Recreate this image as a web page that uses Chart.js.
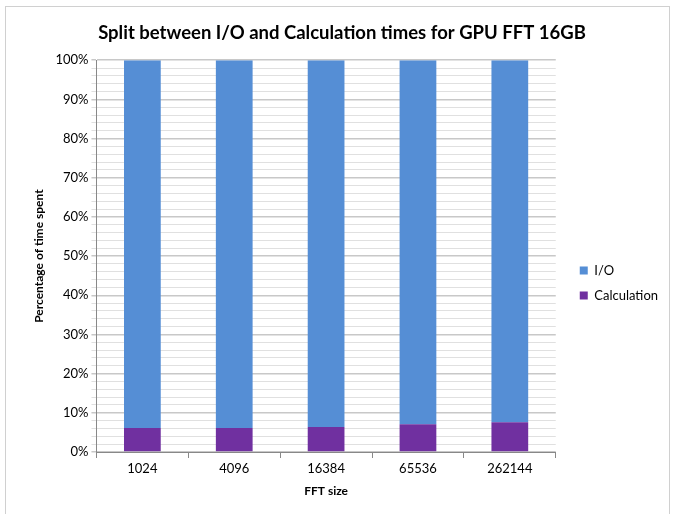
<!DOCTYPE html>
<html>
<head>
<meta charset="utf-8">
<script src="https://cdn.jsdelivr.net/npm/chart.js@4/dist/chart.umd.min.js"></script>
<style>
  body { margin: 0; background: #fff; }
  #frame { position: absolute; left: 5px; top: 6px; width: 663px; height: 520px; border: 1px solid #d0d0d0; }
  #wrap { position: absolute; left: 0; top: 0; width: 676px; height: 514px; }
</style>
</head>
<body>
<div id="frame"></div>
<div id="wrap"><canvas id="chart" width="676" height="514"></canvas></div>
<script>
const fftSizes = ["1024", "4096", "16384", "65536", "262144"];
const calcPct = [6.1, 6.1, 6.4, 7.1, 7.6];
const ioPct = [93.9, 93.9, 93.6, 92.9, 92.4];

const font = "Lato, 'Liberation Sans', sans-serif";

// moves the legend a bit right and down, like Excel places it
const legendShift = {
    id: "legendShift",
    afterLayout(chart) {
        const lg = chart.legend;
        lg.left += 12; lg.right += 12;
        lg.top += 26; lg.bottom += 26;
    }
};

new Chart(document.getElementById("chart"), {
    type: "bar",
    data: {
        labels: fftSizes,
        datasets: [
            { label: "Calculation", data: calcPct, backgroundColor: "#7030a0", barPercentage: 0.4, categoryPercentage: 1 },
            { label: "I/O", data: ioPct, backgroundColor: "#558ed5", barPercentage: 0.4, categoryPercentage: 1 }
        ]
    },
    plugins: [legendShift],
    options: {
        responsive: false,
        animation: false,
        layout: { padding: { left: 28, right: 20, top: 12, bottom: 12 } },
        plugins: {
            title: {
                display: true,
                text: "Split between I/O and Calculation times for GPU FFT 16GB",
                font: { family: font, size: 18.5, weight: "bold" },
                color: "#000",
                padding: { top: 10, bottom: 16 }
            },
            legend: {
                position: "right",
                reverse: true,
                labels: { boxWidth: 8, boxHeight: 8, font: { family: font, size: 13 }, color: "#000", padding: 12 }
            },
            tooltip: { enabled: false }
        },
        scales: {
            x: {
                stacked: true,
                grid: { drawOnChartArea: false, offset: true, tickLength: 6, color: "#888" },
                border: { color: "#888" },
                ticks: { font: { family: font, size: 13 }, color: "#000" },
                title: { display: true, text: "FFT size", font: { family: font, size: 12, weight: "bold" }, color: "#000", padding: { top: 4 } }
            },
            y: {
                stacked: true,
                min: 0,
                max: 100,
                border: { color: "#888" },
                grid: {
                    color: ctx => ctx.tick.value % 10 === 0 ? "#c8c8c8" : "#e0e0e0",
                    lineWidth: ctx => ctx.tick.value % 10 === 0 ? 1.5 : 1,
                    tickLength: 5
                },
                ticks: {
                    stepSize: 2,
                    autoSkip: false,
                    font: { family: font, size: 13 },
                    color: "#000",
                    callback: v => v % 10 === 0 ? v + "%" : ""
                },
                title: { display: true, text: "Percentage of time spent", font: { family: font, size: 12, weight: "bold" }, color: "#000", padding: { bottom: 6 } }
            }
        }
    }
});
</script>
</body>
</html>
